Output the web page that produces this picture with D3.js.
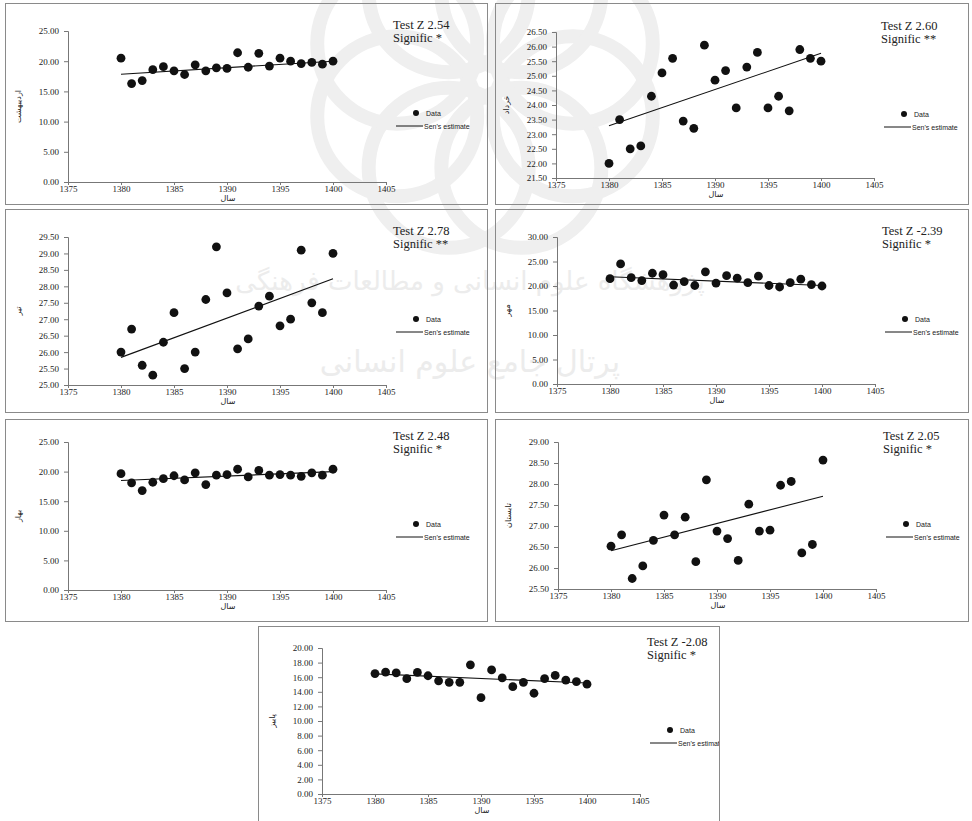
<!DOCTYPE html>
<html>
<head>
<meta charset="utf-8">
<script src="https://cdn.jsdelivr.net/npm/d3@7"></script>
<style>
  html, body { margin: 0; padding: 0; background: #fff; }
  svg { display: block; }
</style>
</head>
<body>
<svg id="chart" width="972" height="821"></svg>
<script>
// Years on the horizontal axis
const years = d3.range(1380, 1401);
const xTicks = [1375, 1380, 1385, 1390, 1395, 1400, 1405];

// Series values per panel (°C)
const ordibehesht = [20.5, 16.3, 16.8, 18.6, 19.1, 18.4, 17.8, 19.4, 18.4, 18.9, 18.8, 21.4, 19.0, 21.3, 19.2, 20.5, 20.0, 19.6, 19.8, 19.5, 20.0];
const khordad = [22.0, 23.5, 22.5, 22.6, 24.3, 25.1, 25.6, 23.45, 23.2, 26.05, 24.85, 25.18, 23.9, 25.3, 25.8, 23.9, 24.3, 23.8, 25.9, 25.6, 25.5];
const tir = [26.0, 26.7, 25.6, 25.3, 26.3, 27.2, 25.5, 26.0, 27.6, 29.2, 27.8, 26.1, 26.4, 27.4, 27.7, 26.8, 27.0, 29.1, 27.5, 27.2, 29.0];
const mehr = [21.5, 24.5, 21.7, 21.1, 22.6, 22.3, 20.2, 20.9, 20.1, 22.9, 20.6, 22.1, 21.6, 20.7, 22.0, 20.1, 19.8, 20.7, 21.4, 20.3, 20.0];
const bahar = [19.65, 18.1, 16.8, 18.2, 18.8, 19.3, 18.6, 19.8, 17.8, 19.4, 19.5, 20.4, 19.1, 20.2, 19.4, 19.5, 19.4, 19.2, 19.8, 19.4, 20.4];
const tabestan = [26.52, 26.79, 25.75, 26.05, 26.66, 27.26, 26.79, 27.21, 26.15, 28.1, 26.88, 26.7, 26.18, 27.52, 26.88, 26.9, 27.97, 28.06, 26.36, 26.56, 28.57];
const paeez = [16.5, 16.7, 16.6, 15.8, 16.65, 16.2, 15.5, 15.3, 15.3, 17.7, 13.2, 17.0, 15.9, 14.7, 15.3, 13.8, 15.8, 16.25, 15.6, 15.4, 15.05];

// Sen's slope trend line: value at the first and at the last year
const senStart = [17.85, 23.29, 25.84, 21.9, 18.5, 26.41, 16.45];
const senEnd = [20.0, 25.77, 28.23, 20.1, 20.0, 27.71, 15.2];

// Mann-Kendall statistics shown in each panel
const testZ = ["2.54", "2.60", "2.78", "-2.39", "2.48", "2.05", "-2.08"];
const signific = ["*", "**", "**", "*", "*", "*", "*"];

// Y-axis titles and ranges
const yTitles = ["اردیبهشت", "خرداد", "تیر", "مهر", "بهار", "تابستان", "پاییز"];
const yMin = [0, 21.5, 25, 0, 0, 25.5, 0];
const yMax = [25, 26.5, 29.5, 30, 25, 29, 20];
const yStep = [5, 0.5, 0.5, 5, 5, 0.5, 2];

const series = [ordibehesht, khordad, tir, mehr, bahar, tabestan, paeez];

// Frame and plot-area geometry of each panel
const frames = [
  { x: 5, y: 3, w: 483, h: 202, left: 68, top: 31, bottom: 182 },
  { x: 495, y: 3, w: 474, h: 202, left: 556, top: 32, bottom: 178 },
  { x: 5, y: 209, w: 483, h: 204, left: 68, top: 237, bottom: 385 },
  { x: 495, y: 209, w: 474, h: 204, left: 557, top: 237, bottom: 384 },
  { x: 5, y: 419, w: 483, h: 203, left: 68, top: 442, bottom: 590 },
  { x: 495, y: 419, w: 474, h: 203, left: 558, top: 442, bottom: 589 },
  { x: 258, y: 626, w: 462, h: 196, left: 322, top: 648, bottom: 794 }
];
const plotWidth = 318;

const svg = d3.select("#chart");
const defs = svg.append("defs");

// faint institutional watermark behind the panels
const wm = svg.append("g").attr("fill", "none").attr("stroke", "#efefef").attr("stroke-width", 14);
d3.range(8).forEach(k => {
  const a = k * Math.PI / 4 + Math.PI / 8;
  wm.append("circle")
    .attr("cx", 485 + 95 * Math.cos(a)).attr("cy", 80 + 95 * Math.sin(a))
    .attr("r", 80);
});
const wmText = svg.append("g")
  .style("font-family", "'DejaVu Sans', sans-serif")
  .attr("fill", "#ececec").attr("text-anchor", "middle");
wmText.append("text").attr("x", 470).attr("y", 290).style("font-size", "26px")
  .text("پژوهشگاه علوم انسانی و مطالعات فرهنگی");
wmText.append("text").attr("x", 470).attr("y", 372).style("font-size", "30px")
  .text("پرتال جامع علوم انسانی");

frames.forEach((f, i) => {
  const clipId = "clip" + i;
  defs.append("clipPath").attr("id", clipId)
    .append("rect").attr("x", f.x).attr("y", f.y).attr("width", f.w).attr("height", f.h);

  const g = svg.append("g").attr("clip-path", `url(#${clipId})`);

  // panel frame
  svg.append("rect")
    .attr("x", f.x + 0.5).attr("y", f.y + 0.5)
    .attr("width", f.w - 1).attr("height", f.h - 1)
    .attr("fill", "none").attr("stroke", "#8a8a8a").attr("stroke-width", 1);

  const x = d3.scaleLinear().domain([1375, 1405]).range([f.left, f.left + plotWidth]);
  const y = d3.scaleLinear().domain([yMin[i], yMax[i]]).range([f.bottom, f.top]);
  const yTicks = d3.range(yMin[i], yMax[i] + yStep[i] / 2, yStep[i]);

  // y axis
  const ya = g.append("g")
    .attr("transform", `translate(${f.left},0)`)
    .call(d3.axisLeft(y).tickValues(yTicks).tickFormat(d3.format(".2f")).tickSize(4).tickPadding(5));
  // x axis
  const xa = g.append("g")
    .attr("transform", `translate(0,${f.bottom})`)
    .call(d3.axisBottom(x).tickValues(xTicks).tickFormat(d3.format("d")).tickSize(3).tickPadding(1));

  [ya, xa].forEach(a => {
    a.select(".domain").attr("stroke", "#777");
    a.selectAll(".tick line").attr("stroke", "#777");
    a.selectAll(".tick text")
      .attr("fill", "#222")
      .style("font-family", "'Liberation Serif', serif")
      .style("font-size", "9px");
  });

  // axis titles
  g.append("text")
    .attr("x", f.left + 160).attr("y", f.bottom + 19)
    .attr("text-anchor", "middle")
    .style("font-family", "'DejaVu Sans', sans-serif")
    .style("font-size", "8px").attr("fill", "#222")
    .text("سال");
  g.append("text")
    .attr("transform", `translate(${f.left - 47},${(f.top + f.bottom) / 2}) rotate(-90)`)
    .attr("text-anchor", "middle")
    .style("font-family", "'DejaVu Sans', sans-serif")
    .style("font-size", "8px").attr("fill", "#222")
    .text(yTitles[i]);

  // Sen's estimate trend line
  g.append("line")
    .attr("x1", x(years[0])).attr("y1", y(senStart[i]))
    .attr("x2", x(years[years.length - 1])).attr("y2", y(senEnd[i]))
    .attr("stroke", "#111").attr("stroke-width", 1.1);

  // observations
  g.selectAll("circle.pt")
    .data(series[i].map((v, k) => ({ year: years[k], value: v })))
    .join("circle")
    .attr("class", "pt")
    .attr("cx", d => x(d.year)).attr("cy", d => y(d.value))
    .attr("r", 4.4).attr("fill", "#111");

  // statistics
  const st = g.append("text")
    .style("font-family", "'Liberation Serif', serif")
    .style("font-size", "12.5px").attr("fill", "#222");
  st.append("tspan").attr("x", f.left + 325).attr("y", f.top - 2).text("Test Z " + testZ[i]);
  st.append("tspan").attr("x", f.left + 325).attr("y", f.top + 11).text("Signific  " + signific[i]);

  // legend
  const lx = f.left + 328, ly = f.top + 82;
  g.append("circle").attr("cx", lx + 20).attr("cy", ly).attr("r", 3).attr("fill", "#111");
  g.append("text").attr("x", lx + 30).attr("y", ly + 2.5)
    .style("font-family", "'Liberation Sans', sans-serif").style("font-size", "7px").attr("fill", "#222")
    .text("Data");
  g.append("line").attr("x1", lx).attr("x2", lx + 27).attr("y1", ly + 13).attr("y2", ly + 13)
    .attr("stroke", "#111").attr("stroke-width", 1);
  g.append("text").attr("x", lx + 28).attr("y", ly + 15.5)
    .style("font-family", "'Liberation Sans', sans-serif").style("font-size", "7px").attr("fill", "#222")
    .text("Sen's estimate");
});
</script>
</body>
</html>
